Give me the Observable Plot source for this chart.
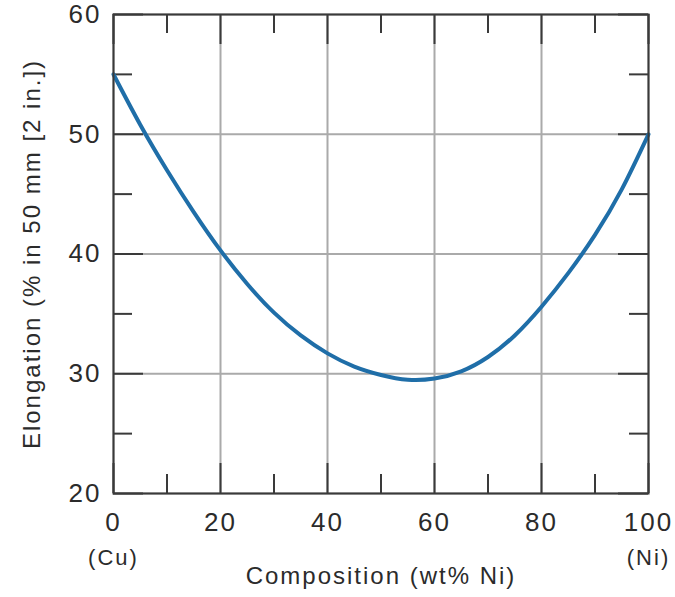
<!DOCTYPE html>
<html>
<head>
<meta charset="utf-8">
<script src="https://cdn.jsdelivr.net/npm/d3@7"></script>
<script src="https://cdn.jsdelivr.net/npm/@observablehq/plot@0.6"></script>
<style>
  html, body { margin: 0; padding: 0; background: #fff; }
  #chart { width: 675px; height: 597px; }
  #chart svg text { letter-spacing: 2px; }
</style>
</head>
<body>
<div id="chart"></div>
<script>
// Data
const composition = [0, 5, 10, 15, 20, 25, 30, 35, 40, 45, 50, 55, 60, 65, 70, 75, 80, 85, 90, 95, 100];
const elongation  = [55.0, 50.8, 47.0, 43.5, 40.3, 37.5, 35.1, 33.2, 31.7, 30.6, 29.9, 29.5, 29.6, 30.2, 31.4, 33.2, 35.6, 38.4, 41.6, 45.4, 50.0];

const xMajor = [0, 20, 40, 60, 80, 100];
const xMinor = [10, 30, 50, 70, 90];
const yMajor = [20, 30, 40, 50, 60];
const yMinor = [25, 35, 45, 55];
const xEnds = [0, 100];
const xEndLabels = ["(Cu)", "(Ni)"];
const xTitle = "Composition (wt% Ni)";
const yTitle = "Elongation (% in 50 mm [2 in.])";

const data = composition.map((c, i) => ({c, e: elongation[i]}));

const W = 675, H = 597;
const mL = 113, mR = 27, mT = 14, mB = 104;
const pw = W - mL - mR, ph = H - mT - mB;
const majorLen = 30, minorLen = 19;
const tickColor = "#3a3a3a";
const textColor = "#2b2b2b";

const chart = Plot.plot({
  width: W,
  height: H,
  marginLeft: mL,
  marginRight: mR,
  marginTop: mT,
  marginBottom: mB,
  x: {domain: [0, 100], axis: null},
  y: {domain: [20, 60], axis: null},
  style: {fontFamily: "'Liberation Sans', Arial, sans-serif", color: textColor, background: "#fff"},
  marks: [
    Plot.gridX(xMajor, {stroke: "#aaaaaa", strokeOpacity: 1, strokeWidth: 2}),
    Plot.gridY(yMajor, {stroke: "#aaaaaa", strokeOpacity: 1, strokeWidth: 2}),
    // major ticks (inward, all four sides)
    Plot.tickX(xMajor, {x: d => d, stroke: tickColor, strokeWidth: 2, insetTop: ph - majorLen}),
    Plot.tickX(xMajor, {x: d => d, stroke: tickColor, strokeWidth: 2, insetBottom: ph - majorLen}),
    Plot.tickY(yMajor, {y: d => d, stroke: tickColor, strokeWidth: 2, insetRight: pw - majorLen}),
    Plot.tickY(yMajor, {y: d => d, stroke: tickColor, strokeWidth: 2, insetLeft: pw - majorLen}),
    // minor ticks
    Plot.tickX(xMinor, {x: d => d, stroke: tickColor, strokeWidth: 2, insetTop: ph - minorLen}),
    Plot.tickX(xMinor, {x: d => d, stroke: tickColor, strokeWidth: 2, insetBottom: ph - minorLen}),
    Plot.tickY(yMinor, {y: d => d, stroke: tickColor, strokeWidth: 2, insetRight: pw - minorLen}),
    Plot.tickY(yMinor, {y: d => d, stroke: tickColor, strokeWidth: 2, insetLeft: pw - minorLen}),
    Plot.line(data, {x: "c", y: "e", curve: "natural", stroke: "#1f6ea8", strokeWidth: 4}),
    Plot.frame({stroke: tickColor, strokeWidth: 2}),
    Plot.axisX(xMajor, {tickSize: 0, tickPadding: 19, fontSize: 26, label: null, fill: textColor}),
    Plot.axisX(xEnds, {tickSize: 0, tickPadding: 56, fontSize: 22, tickFormat: (d) => xEndLabels[xEnds.indexOf(d)], label: null, fill: textColor}),
    Plot.axisY(yMajor, {tickSize: 0, tickPadding: 12, fontSize: 26, label: null, fill: textColor}),
    Plot.text([xTitle], {text: d => d, frameAnchor: "bottom", dy: 90, fontSize: 24, textAnchor: "middle", fill: textColor}),
    Plot.text([yTitle], {text: d => d, frameAnchor: "left", dx: -81, rotate: -90, fontSize: 24, textAnchor: "middle", fill: textColor})
  ]
});
document.getElementById("chart").appendChild(chart);
</script>
</body>
</html>
